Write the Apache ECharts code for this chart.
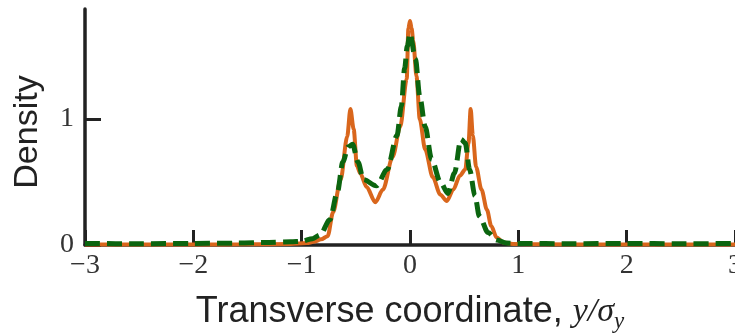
<!DOCTYPE html>
<html>
<head>
<meta charset="utf-8">
<style>
  html, body { margin: 0; padding: 0; background: #fff; }
  #chart { width: 735px; height: 333px; }
</style>
<script src="https://cdn.jsdelivr.net/npm/echarts@6/dist/echarts.min.js"></script>
</head>
<body>
<div id="chart"></div>
<script>
// Transverse density profile: simulated (solid) vs. model (dashed)
const xTicks = [-3, -2, -1, 0, 1, 2, 3];
const yTicks = [0, 1];

const solidX = [-3, -2, -1.5, -1.1, -0.95, -0.89, -0.82, -0.76, -0.71, -0.64, -0.58, -0.55, -0.52, -0.49, -0.46, -0.40, -0.32, -0.25, -0.16, -0.09, -0.03, -0.015, 0, 0.015, 0.03, 0.06, 0.09, 0.14, 0.21, 0.28, 0.34, 0.40, 0.46, 0.51, 0.54, 0.56, 0.58, 0.61, 0.66, 0.71, 0.75, 0.80, 0.86, 0.95, 1.2, 2, 3];
const solidY = [0.004, 0.004, 0.005, 0.008, 0.015, 0.025, 0.045, 0.07, 0.26, 0.52, 0.86, 1.08, 0.92, 0.63, 0.57, 0.46, 0.34, 0.44, 0.70, 0.94, 1.32, 1.72, 1.78, 1.72, 1.62, 1.34, 1.00, 0.76, 0.54, 0.40, 0.35, 0.44, 0.55, 0.60, 0.81, 1.08, 0.87, 0.62, 0.44, 0.28, 0.15, 0.06, 0.02, 0.008, 0.005, 0.004, 0.004];

const dashedX = [-3, -2.5, -2, -1.6, -1.3, -1.1, -1.0, -0.9, -0.83, -0.74, -0.67, -0.62, -0.57, -0.53, -0.48, -0.43, -0.31, -0.21, -0.12, -0.08, -0.05, -0.025, 0, 0.05, 0.09, 0.14, 0.20, 0.28, 0.35, 0.41, 0.47, 0.51, 0.55, 0.60, 0.64, 0.72, 0.80, 0.89, 1.0, 1.5, 2, 2.5, 3];
const dashedY = [0.012, 0.01, 0.012, 0.015, 0.02, 0.025, 0.03, 0.05, 0.08, 0.20, 0.42, 0.66, 0.78, 0.80, 0.66, 0.52, 0.47, 0.60, 0.87, 1.10, 1.40, 1.58, 1.68, 1.48, 1.18, 0.94, 0.68, 0.50, 0.41, 0.57, 0.84, 0.81, 0.60, 0.39, 0.23, 0.10, 0.04, 0.015, 0.012, 0.01, 0.012, 0.01, 0.012];

const pairs = (xs, ys) => xs.map((x, i) => [x, ys[i]]);

const axisColor = '#222';
const tickFont = { fontFamily: 'Liberation Serif', fontSize: 28, color: '#333' };
const fmt = v => (v < 0 ? '\u2212' + Math.abs(v) : String(v));

const chart = echarts.init(document.getElementById('chart'), null, { renderer: 'canvas' });
chart.setOption({
  animation: false,
  backgroundColor: '#fff',
  grid: { left: 85, right: 0, top: 9, bottom: 88, containLabel: false, outerBoundsMode: 'none' },
  xAxis: {
    type: 'value',
    min: xTicks[0], max: xTicks[xTicks.length - 1], interval: 1,
    axisLine: { show: true, onZero: false, lineStyle: { color: axisColor, width: 3.5 } },
    axisTick: { show: true, inside: true, length: 15, customValues: xTicks, lineStyle: { color: axisColor, width: 3 } },
    splitLine: { show: false },
    axisLabel: Object.assign({ margin: 7, formatter: fmt, customValues: xTicks, showMaxLabel: true, hideOverlap: false }, tickFont),
    name: '{a|Transverse coordinate, }{m|y/\u03c3}{s|y}',
    nameLocation: 'middle',
    nameGap: 46,
    nameTextStyle: {
      rich: {
        a: { fontFamily: 'Liberation Sans', fontSize: 36, color: '#222' },
        m: { fontFamily: 'Liberation Serif', fontStyle: 'italic', fontSize: 34, color: '#222' },
        s: { fontFamily: 'Liberation Serif', fontStyle: 'italic', fontSize: 23, color: '#222', padding: [19, 0, 0, 0] }
      }
    }
  },
  yAxis: {
    type: 'value',
    min: 0, max: 1.875, interval: 1,
    axisLine: { show: true, onZero: false, lineStyle: { color: axisColor, width: 3.5 } },
    axisTick: { show: true, inside: true, length: 16, customValues: yTicks, lineStyle: { color: axisColor, width: 3 } },
    splitLine: { show: false },
    axisLabel: Object.assign({ margin: 11, customValues: yTicks, formatter: v => String(v) }, tickFont),
    name: 'Density',
    nameLocation: 'middle',
    nameGap: 40,
    nameTextStyle: { fontFamily: 'Liberation Sans', fontSize: 34, color: '#222', padding: [0, 0, 0, -10] }
  },
  series: [
    {
      type: 'line',
      data: pairs(solidX, solidY),
      showSymbol: false,
      smooth: 0.3,
      smoothMonotone: 'x',
      lineStyle: { color: '#d9661c', width: 4 }
    },
    {
      type: 'line',
      data: pairs(dashedX, dashedY),
      showSymbol: false,
      smooth: 0.3,
      smoothMonotone: 'x',
      lineStyle: { color: '#0b650f', width: 5, type: [15, 7] }
    }
  ]
});
</script>
</body>
</html>
